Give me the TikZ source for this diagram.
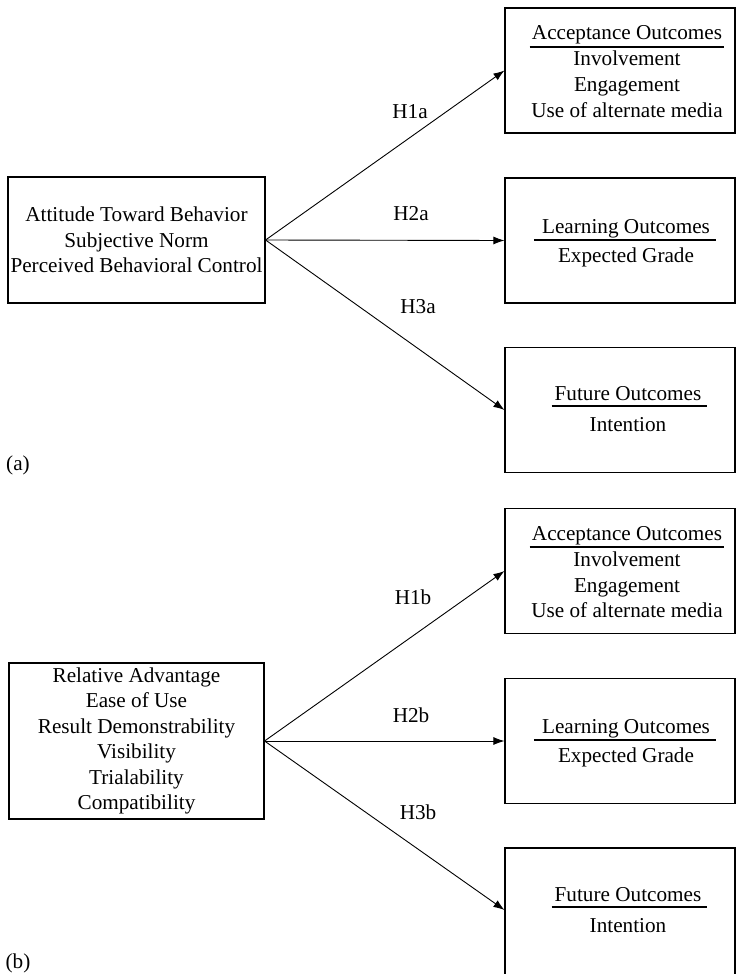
\documentclass[tikz,border=0pt]{standalone}
\usepackage{fontspec}
\setmainfont{Liberation Serif}
\usetikzlibrary{arrows.meta,calc}
\begin{document}
\begin{tikzpicture}[x=1pt,y=-1pt,
  txt/.style={font=\fontsize{21.2}{25.5}\selectfont, inner sep=0pt},
  box/.style={draw, line width=1.1pt, inner sep=0pt},
  rbox/.style={box, minimum width=230pt, minimum height=125pt},
  arr/.style={line width=0.9pt, -{Latex[length=11pt,width=8pt]}},
  rulel/.style={line width=1.1pt}]
\clip (0,0) rectangle (737,974);
% ---------- panel (a) ----------
\node[box, txt, align=center, minimum width=257pt, minimum height=126pt] (La) at (136.5,240)
  {Attitude Toward Behavior\\Subjective Norm\\Perceived Behavioral Control};
\node[rbox] (A1) at (620,70.5) {};
\node[rbox] (A2) at (620,240.5) {};
\node[rbox] (A3) at (620,410) {};
\node[txt, anchor=base] (A1h) at (627,40) {Acceptance Outcomes};
\node[txt, anchor=base] (A1a) at (627,66) {Involvement};
\node[txt, anchor=base] (A1b) at (627,92) {Engagement};
\node[txt, anchor=base] (A1c) at (627,117) {Use of alternate media};
\node[txt, anchor=base] (A2h) at (626,233) {Learning Outcomes};
\node[txt, anchor=base] (A2a) at (626,262) {Expected Grade};
\node[txt, anchor=base] (A3h) at (628,400) {Future Outcomes};
\node[txt, anchor=base] (A3a) at (628,431) {Intention};
\draw[rulel] ($(A1h.base west)+(-2,7)$) -- ($(A1h.base east)+(2,7)$);
\draw[rulel] ($(A2h.base west)+(-8,7)$) -- ($(A2h.base east)+(6,7)$);
\draw[rulel] ($(A3h.base west)+(-3,6)$) -- ($(A3h.base east)+(5,6)$);
\draw[arr] (La.east) -- (A1.west);
\draw[arr] (La.east) -- (A2.west);
\draw[arr] (La.east) -- (A3.west);
\node[txt] (h1a) at (410,112) {H1a};
\node[txt] (h2a) at (411,214) {H2a};
\node[txt] (h3a) at (418,307) {H3a};
\node[txt] (pa) at (18,465) {(a)};
% ---------- panel (b) ----------
\node[box, txt, align=center, minimum width=255pt, minimum height=156pt] (Lb) at (136.5,741)
  {Relative Advantage\\Ease of Use\\Result Demonstrability\\Visibility\\Trialability\\Compatibility};
\node[rbox] (B1) at (620,571) {};
\node[rbox] (B2) at (620,741) {};
\node[box, minimum width=230pt, minimum height=132pt] (B3) at (620,914) {};
\node[txt, anchor=base] (B1h) at (627,540) {Acceptance Outcomes};
\node[txt, anchor=base] (B1a) at (627,566) {Involvement};
\node[txt, anchor=base] (B1b) at (627,592) {Engagement};
\node[txt, anchor=base] (B1c) at (627,617) {Use of alternate media};
\node[txt, anchor=base] (B2h) at (626,733) {Learning Outcomes};
\node[txt, anchor=base] (B2a) at (626,762) {Expected Grade};
\node[txt, anchor=base] (B3h) at (628,901) {Future Outcomes};
\node[txt, anchor=base] (B3a) at (628,932) {Intention};
\draw[rulel] ($(B1h.base west)+(-2,7)$) -- ($(B1h.base east)+(2,7)$);
\draw[rulel] ($(B2h.base west)+(-8,7)$) -- ($(B2h.base east)+(6,7)$);
\draw[rulel] ($(B3h.base west)+(-3,6)$) -- ($(B3h.base east)+(5,6)$);
\draw[arr] (Lb.east) -- (B1.west);
\draw[arr] (Lb.east) -- (B2.west);
\draw[arr] (Lb.east) -- ([yshift=4pt]B3.west);
\node[txt] (h1b) at (413,597) {H1b};
\node[txt] (h2b) at (411,715) {H2b};
\node[txt] (h3b) at (418,812) {H3b};
\node[txt] (pb) at (18,963) {(b)};
\end{tikzpicture}
\end{document}
